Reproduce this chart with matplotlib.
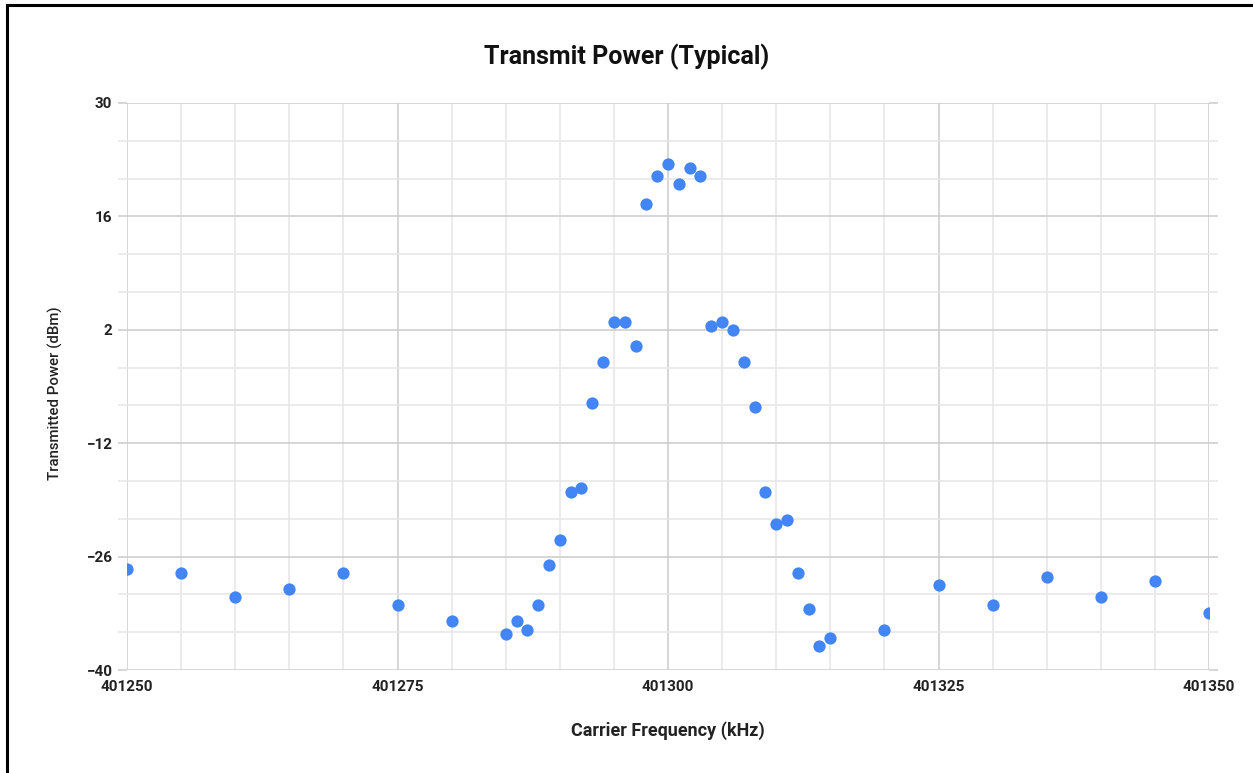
import matplotlib
matplotlib.use("Agg")
import matplotlib.pyplot as plt
from matplotlib.lines import Line2D
from matplotlib.ticker import MultipleLocator

plt.rcParams['font.family'] = ['Roboto', 'DejaVu Sans']

# carrier frequency (kHz) and transmitted power (dBm)
freq_khz = [401250, 401255, 401260, 401265, 401270, 401275, 401280,
            401285, 401286, 401287, 401288, 401289, 401290, 401291,
            401292, 401293, 401294, 401295, 401296, 401297, 401298,
            401299, 401300, 401301, 401302, 401303, 401304, 401305,
            401306, 401307, 401308, 401309, 401310, 401311, 401312,
            401313, 401314, 401315, 401320, 401325, 401330, 401335,
            401340, 401345, 401350]
power_dbm = [-27.5, -28, -31, -30, -28, -32, -34,
             -35.5, -34, -35, -32, -27, -24, -18,
             -17.5, -7, -2, 3, 3, 0, 17.5,
             21, 22.5, 20, 22, 21, 2.5, 3,
             2, -2, -7.5, -18, -22, -21.5, -28,
             -32.5, -37, -36, -35, -29.5, -32, -28.5,
             -31, -29, -33]

x_ticks = [401250, 401275, 401300, 401325, 401350]
y_ticks = [-40, -26, -12, 2, 16, 30]

W, H = 1253, 773
fig = plt.figure(figsize=(W / 100, H / 100), dpi=100)
ax = fig.add_axes([127 / W, 1 - 670 / H, (1209 - 127) / W, (670 - 103) / H])

major_grid = '#cccccc'
minor_grid = '#e6e6e6'

ax.scatter(freq_khz, power_dbm, s=78, color='#4285f4', zorder=3, linewidths=0)

ax.set_xlim(401250, 401350)
ax.set_ylim(-40, 30)
ax.set_xticks(x_ticks)
ax.set_yticks(y_ticks)
ax.xaxis.set_minor_locator(MultipleLocator(5))
ax.yaxis.set_minor_locator(MultipleLocator(14 / 3, offset=-40))
ax.xaxis.set_major_formatter(plt.FuncFormatter(lambda v, p: f"{int(round(v))}"))

ax.grid(True, which='major', color=major_grid, linewidth=1.1, zorder=0)
ax.grid(True, which='minor', color=minor_grid, linewidth=1.1, zorder=0)
ax.set_axisbelow(True)
for s in ax.spines.values():
    s.set_visible(False)

ax.tick_params(axis='y', which='both', length=6.5, width=1.1, left=True, right=True,
               color=major_grid, pad=4)
ax.tick_params(axis='y', which='minor', color=minor_grid)
ax.tick_params(axis='x', which='both', length=0, pad=7)
for lab in ax.get_xticklabels() + ax.get_yticklabels():
    lab.set_fontsize(11)
    lab.set_fontweight('bold')
    lab.set_color('#222222')

ax.set_xlabel("Carrier Frequency (kHz)", fontsize=13, fontweight='bold',
              color='#222222', labelpad=20)
fig.text(55 / W, 1 - 393 / H, "Transmitted Power (dBm)", rotation=90,
         ha='center', va='center', fontsize=10.8, color='#222222', fontweight='medium')
fig.suptitle("Transmit Power (Typical)", x=0.5, y=1 - 57 / H, va='center',
             fontsize=18, fontweight='bold', color='#111111')

# frame lines on the left and top edges
fig.add_artist(Line2D([7 / W, 7 / W], [0, 1 - 5 / H], transform=fig.transFigure,
                      color='black', linewidth=2.2))
fig.add_artist(Line2D([7 / W, 1], [1 - 5 / H, 1 - 5 / H], transform=fig.transFigure,
                      color='black', linewidth=2.2))

fig.savefig('out.png', dpi=100)
